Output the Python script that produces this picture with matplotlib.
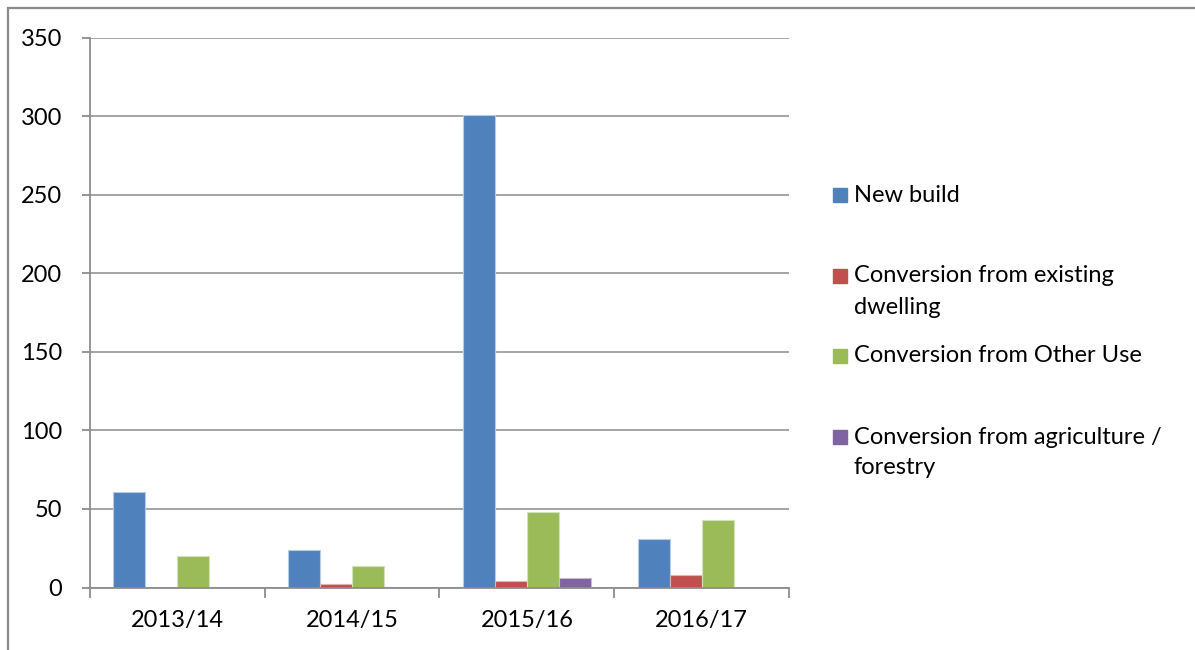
import matplotlib.pyplot as plt
from matplotlib.patches import Rectangle

plt.rcParams['font.family'] = ['Lato', 'DejaVu Sans']

# Data
years = ['2013/14', '2014/15', '2015/16', '2016/17']
series_names = ['New build',
                'Conversion from existing\ndwelling',
                'Conversion from Other Use',
                'Conversion from agriculture /\nforestry']
new_build = [61, 24, 301, 31]
from_dwelling = [0, 2, 4, 8]
from_other_use = [20, 14, 48, 43]
from_agriculture = [0, 0, 6, 0]
values = [new_build, from_dwelling, from_other_use, from_agriculture]
yticks = [0, 50, 100, 150, 200, 250, 300, 350]

colors = ['#4F81BD', '#C0504D', '#9BBB59', '#8064A2']
edges = ['#B7CBE4', '#E2B3B2', '#D2E2B6', '#C6B9D8']

W, H = 1195, 650
fig = plt.figure(figsize=(W / 100, H / 100), dpi=100)
ax = fig.add_axes([90 / W, 62.5 / H, 699 / W, 549.6 / H])

grid_col = '#8C8C8C'
bw = 0.183
for i, (vals, c, ec) in enumerate(zip(values, colors, edges)):
    xs = [k + (i - 1.5) * bw for k in range(len(years))]
    ax.bar(xs, vals, width=bw, color=c, edgecolor=ec, linewidth=0.8, zorder=3)

ax.set_xlim(-0.5, len(years) - 0.5)
ax.set_ylim(0, 350)
ax.set_yticks(yticks)
ax.set_yticklabels([str(t) for t in yticks], fontsize=17)
ax.set_xticks(range(len(years)))
ax.set_xticklabels(years, fontsize=17)
ax.set_xticks([k - 0.5 for k in range(len(years) + 1)], minor=True)
ax.tick_params(axis='x', which='major', length=0, pad=16)
ax.tick_params(axis='x', which='minor', length=7, width=1.3, color=grid_col)
ax.tick_params(axis='y', length=6, width=1.3, color=grid_col, pad=14)

ax.grid(True, axis='y', color=grid_col, linewidth=1.1, zorder=0)
for side in ['top', 'right']:
    ax.spines[side].set_visible(False)
for side in ['left', 'bottom']:
    ax.spines[side].set_color(grid_col)
    ax.spines[side].set_linewidth(1.3)
    ax.spines[side].set_zorder(4)

# Legend drawn by hand so entries sit where Excel puts them
legend_rows = [195, 276, 356, 437]
line_step = 31
for name, c, y in zip(series_names, colors, legend_rows):
    fig.patches.append(Rectangle((833 / W, 1 - (y + 7) / H), 14 / W, 14 / H,
                                 transform=fig.transFigure, color=c))
    for k, line in enumerate(name.split('\n')):
        fig.text(854 / W, 1 - (y + k * line_step) / H, line, fontsize=17,
                 va='center', ha='left', color='#000000')

# Chart area border
fig.patches.append(Rectangle((8 / W, -0.2), 1.2, 1.2 - 8 / H + 0.0,
                             transform=fig.transFigure, fill=False,
                             edgecolor='#8A8A8A', linewidth=1.6))

fig.savefig('out.png', dpi=100)
